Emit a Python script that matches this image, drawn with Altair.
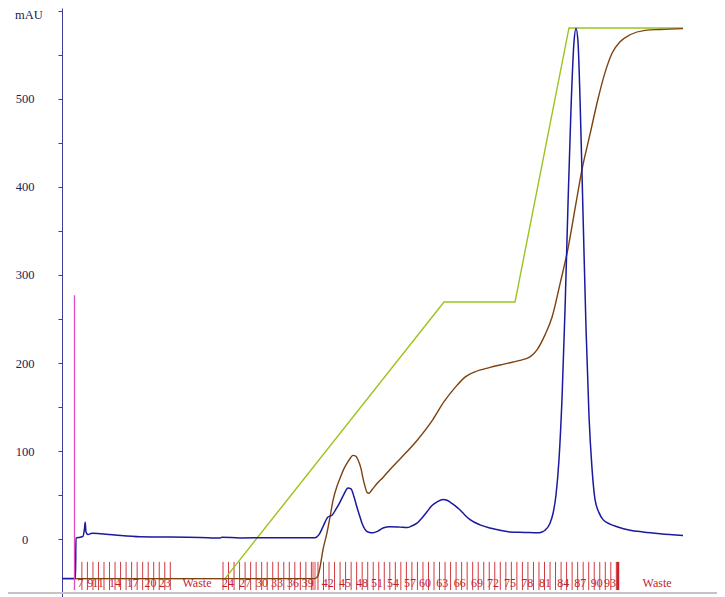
import altair as alt
import pandas as pd

# ---- UV 280 nm trace (volume in ml, absorbance in mAU) ----
uv_ml = [0, 2.44, 2.53, 3.26, 3.80, 4.07, 4.20, 4.34, 4.71, 5.43, 6.88, 9.59, 14.12,
         24.98, 28.60, 28.96, 32.22, 39.46, 45.79, 46.52, 47.24, 48.14, 48.87, 49.59,
         50.32, 51.04, 51.76, 52.31, 52.85, 53.39, 53.94, 54.30, 54.84, 55.38, 56.29,
         57.19, 58.10, 59.37, 61.18, 62.44, 63.35, 64.25, 65.16, 66.06, 66.97, 67.87,
         68.96, 69.68, 70.23, 71.13, 72.04, 72.94, 73.85, 75.66, 77.47, 79.28, 81.09,
         83.80, 85.97, 86.88, 87.42, 88.33, 88.87, 89.41, 89.95, 90.50, 91.04, 91.58,
         92.13, 92.67, 93.03, 93.39, 93.76, 94.30, 94.84, 95.38, 95.93, 96.47, 97.19,
         97.92, 99.19, 100.45, 102.81, 105.16, 108.24, 112.40]
uv_mau = [-45, -45, 1, 2, 3, 12, 19, 8, 5, 6.5, 6, 4.5, 2.5,
          1.8, 1.2, 2, 1.2, 1.5, 1.5, 5, 14, 25, 27, 34,
          42, 51, 58, 57, 48, 36, 25, 18, 11, 8, 7,
          9, 12.5, 14, 13.5, 13, 15, 18, 24, 31, 38, 42,
          45, 44, 42, 38, 33, 27, 22, 16, 12.5, 10, 8,
          7.5, 7, 8, 10, 18, 29, 50, 90, 160, 260, 380,
          490, 565, 580, 565, 500, 370, 240, 140, 80, 45, 30,
          22, 17, 14, 10, 8, 6, 4]

# ---- Conductivity trace ----
cond_ml = [0, 45.79, 46.33, 46.70, 47.24, 47.96, 48.51, 49.05, 49.77, 50.32, 51.04,
           51.76, 52.31, 52.67, 53.21, 53.57, 54.12, 54.48, 54.84, 55.20, 55.57,
           56.11, 57.01, 58.10, 59.37, 61.18, 64.25, 67.15, 69.14, 71.13, 72.94,
           74.75, 77.47, 80.18, 82.90, 84.71, 85.97, 87.42, 88.69, 90.14, 91.58,
           92.85, 94.12, 95.57, 97.01, 98.28, 99.55, 101.00, 102.81, 105.52, 108.24, 112.40]
cond_val = [-45, -45, -42, -32, -12, 7, 25, 44, 60, 69, 80,
            88, 93, 95, 94, 90, 80, 69, 60, 53, 52,
            56, 63, 70, 79, 91, 112, 136, 156, 172, 184,
            190, 195, 199, 203, 207, 215, 232, 252, 290, 330,
            375, 420, 460, 500, 530, 552, 565, 573, 578, 579, 580]

# ---- Gradient (%B) trace, drawn on the mAU scale ----
grad_ml = [0, 29.5, 69.14, 81.99, 91.76, 112.40]
grad_val = [-45, -45, 269.3, 269.3, 580.7, 580.7]

# ---- Fractions ----
frac_block_start = [3.6, 29.14, 46.33]
frac_block_count = [17, 17, 55]
frac_step = 1.0
frac_end = 100.63
frac_labels = ["7", "9", "11", "14", "17", "20", "23",
               "24", "27", "30", "33", "36", "39", "42", "45", "48", "51", "54",
               "57", "60", "63", "66", "69", "72", "75", "78", "81", "84", "87", "90", "93"]
frac_label_ml = [3.35, 5.1, 6.5, 9.6, 12.8, 16.0, 18.6,
                 30.05, 33.12, 36.2, 38.9, 41.8, 44.5, 48.1, 51.2, 54.3, 57.0, 59.9,
                 63.0, 65.7, 68.8, 72.0, 75.1, 78.0, 81.1, 84.2, 87.4, 90.7, 93.8, 96.8, 99.2]
waste_ml = [24.43, 107.7]
highlight_ml = [45.25, 45.97]
inject_ml = 2.26
inject_top = 277

y_values = [0, 50, 100, 150, 200, 250, 300, 350, 400, 450, 500, 550, 600]
unit_label = "mAU"

XS = alt.Scale(domain=[0, 118.55], nice=False, zero=False)
YS = alt.Scale(domain=[-65.9, 603.4], nice=False, zero=False)
YAX = alt.Axis(
    values=y_values,
    labelExpr="datum.value % 100 == 0 && datum.value < 600 ? datum.label : ''",
    title=None, grid=False, domainColor="#3c3c9a", tickColor="#3c3c9a", tickSize=4,
    labelFont="Liberation Serif", labelFontSize=12.5, labelColor="#20205a",
    labelAlign="center", labelPadding=33.5, labelBaseline="middle",
)


def xenc(field):
    return alt.X(f"{field}:Q", scale=XS, axis=None)


def yenc(field):
    return alt.Y(f"{field}:Q", scale=YS, axis=YAX)


ticks = []
for s, c in zip(frac_block_start, frac_block_count):
    for i in range(c):
        ticks.append(s + i * frac_step)
tick_df = pd.DataFrame({"x": ticks, "y": [-26] * len(ticks), "y2": [-58] * len(ticks)})
end_df = pd.DataFrame({"x": [frac_end], "y": [-26], "y2": [-58]})
hl_df = pd.DataFrame({"x": [highlight_ml[0]], "x2": [highlight_ml[1]], "y": [-26], "y2": [-58]})

tick_layer = alt.Chart(tick_df).mark_rule(color="#d0393f", strokeWidth=1, clip=False).encode(
    x=xenc("x"), y=yenc("y"), y2="y2:Q")
end_layer = alt.Chart(end_df).mark_rule(color="#c8252b", strokeWidth=2.5, clip=False).encode(
    x=xenc("x"), y=yenc("y"), y2="y2:Q")
hl_layer = alt.Chart(hl_df).mark_rect(color="#f08a8a", opacity=0.8, clip=False).encode(
    x=xenc("x"), x2="x2:Q", y=yenc("y"), y2="y2:Q")

grad_df = pd.DataFrame({"x": grad_ml, "y": grad_val})
grad_layer = alt.Chart(grad_df).mark_line(color="#9cc31e", strokeWidth=1.4).encode(
    x=xenc("x"), y=yenc("y"))

cond_df = pd.DataFrame({"x": cond_ml, "y": cond_val})
cond_layer = alt.Chart(cond_df).mark_line(color="#7d4212", strokeWidth=1.4, interpolate="monotone").encode(
    x=xenc("x"), y=yenc("y"))

uv_df = pd.DataFrame({"x": uv_ml, "y": uv_mau})
uv_layer = alt.Chart(uv_df).mark_line(color="#1a1a9c", strokeWidth=1.5, interpolate="monotone").encode(
    x=xenc("x"), y=yenc("y"))

inj_df = pd.DataFrame({"x": [inject_ml], "y": [inject_top], "y2": [-58]})
inj_layer = alt.Chart(inj_df).mark_rule(color="#e04cc8", strokeWidth=1.3, clip=False).encode(
    x=xenc("x"), y=yenc("y"), y2="y2:Q")

lab_df = pd.DataFrame({"x": frac_label_ml, "y": [-50.5] * len(frac_labels), "t": frac_labels})
lab_layer = alt.Chart(lab_df).mark_text(
    font="Liberation Serif", fontSize=12, color="#c41f2a", baseline="middle", align="center"
).encode(x=xenc("x"), y=yenc("y"), text="t:N")

waste_df = pd.DataFrame({"x": waste_ml, "y": [-50.5, -50.5], "t": ["Waste", "Waste"]})
waste_layer = alt.Chart(waste_df).mark_text(
    font="Liberation Serif", fontSize=12, color="#c0282d", baseline="middle", align="center"
).encode(x=xenc("x"), y=yenc("y"), text="t:N")

unit_df = pd.DataFrame({"y": [596.0], "t": [unit_label]})
unit_layer = alt.Chart(unit_df).mark_text(
    font="Liberation Serif", fontSize=12.5, color="#20205a", baseline="middle", align="center", clip=False
).encode(x=alt.value(-33), y=yenc("y"), text="t:N")

base_df = pd.DataFrame({"y": [-61.4]})
base_layer = alt.Chart(base_df).mark_rule(color="#c4c4c4", strokeWidth=2, clip=False).encode(
    x=alt.value(-54), x2=alt.value(663), y=yenc("y"))

chart = alt.layer(
    base_layer, tick_layer, hl_layer, end_layer, grad_layer, cond_layer, uv_layer, inj_layer,
    lab_layer, waste_layer, unit_layer
).properties(
    width=655, height=589,
    autosize=alt.AutoSizeParams(type="none"),
    padding={"left": 54, "top": 0, "right": 0, "bottom": 0},
    background="white",
).configure_view(stroke=None)

chart.save("out.html", embed_options={"renderer": "svg", "actions": False})
